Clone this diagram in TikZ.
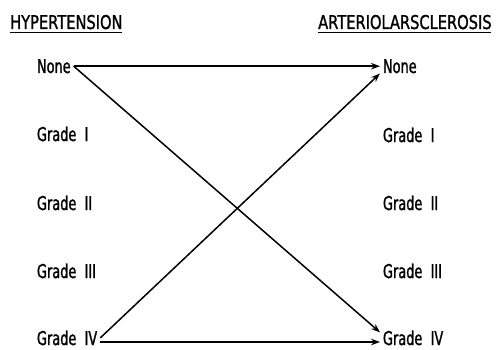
\documentclass[tikz,border=0pt]{standalone}
\usepackage{fontspec}
\setmainfont{DejaVu Sans}
\newfontfamily\labfont[FakeStretch=0.68,FakeBold=1.2]{DejaVu Sans}
\newfontfamily\headfont[FakeStretch=0.77,FakeBold=1.2]{DejaVu Sans}
\usepackage{tikz}
\usetikzlibrary{arrows.meta}

\begin{document}
\begin{tikzpicture}[x=1pt, y=-1pt,
        lab/.style={anchor=base west, inner sep=0pt, outer xsep=3pt,
                    font=\labfont\fontsize{19}{19}\selectfont},
        head/.style={anchor=base west, inner sep=0pt,
                     font=\headfont\fontsize{19}{19}\selectfont},
        uline/.style={line width=1.8pt},
        arr/.style={-{Stealth[length=9pt,width=6.5pt]}, line width=1.5pt}
    ]
    \useasboundingbox (0,0) rectangle (497,350);
    % column headings
    \node[head] (hyp) at (10,29) {HYPERTENSION};
    \node[head] (art) at (318,29) {ARTERIOLARSCLEROSIS};
    \draw[uline] (hyp.south west) ++(0,3) -- ++(112,0);
    \draw[uline] (art.south west) ++(0,3) -- ++(173,0);
    % left column
    \node[lab] (hN)   at (34,73)  {None};
    \node[lab] (hI)   at (34,141) {Grade\ \ I};
    \node[lab] (hII)  at (34,210) {Grade\ \ II};
    \node[lab] (hIII) at (34,278) {Grade\ \ III};
    \node[lab] (hIV)  at (34,345) {Grade\ \ IV};
    % right column
    \node[lab] (aN)   at (380,73)  {None};
    \node[lab] (aI)   at (380,142) {Grade\ \ I};
    \node[lab] (aII)  at (380,210) {Grade\ \ II};
    \node[lab] (aIII) at (380,278) {Grade\ \ III};
    \node[lab] (aIV)  at (380,345) {Grade\ \ IV};
    \draw[arr] (hN.east) -- (aN.west);
    \draw[arr] (hN.east) -- ([yshift=-2pt]aIV.north west);
    \draw[arr] (hIV.east) -- (aN.south west);
    \draw[arr] ([yshift=3pt]hIV.base east) -- ([yshift=3pt]aIV.base west);
\end{tikzpicture}
\end{document}
